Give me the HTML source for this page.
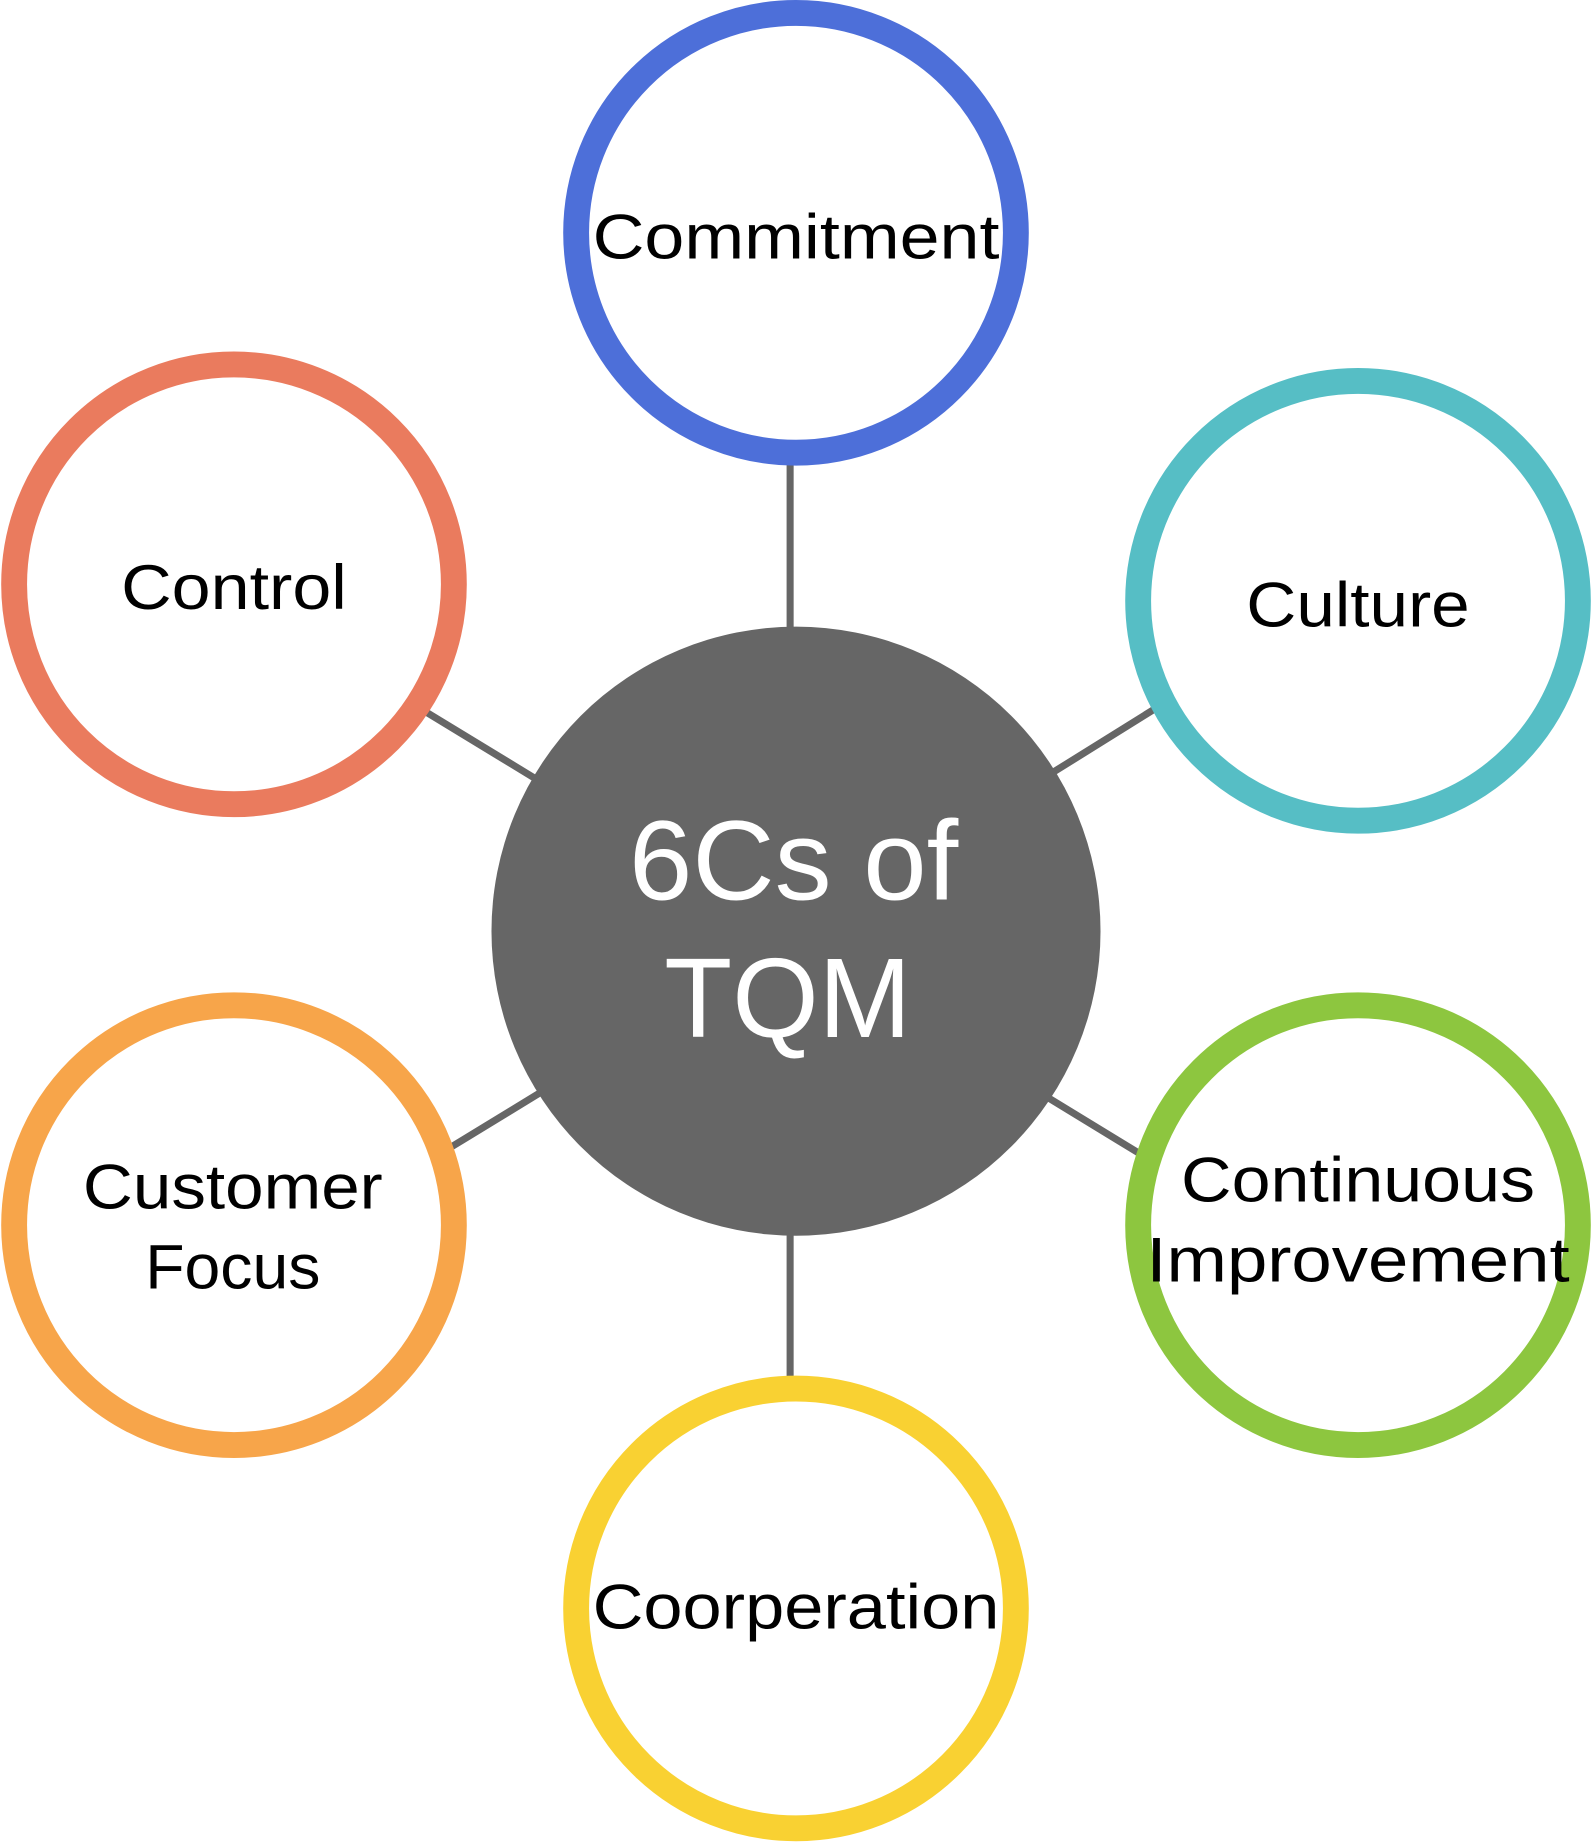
<!DOCTYPE html>
<html><head><meta charset="utf-8"><style>html,body{margin:0;padding:0;background:#fff}svg{display:block}</style></head>
<body>
<svg width="1592" height="1843" viewBox="0 0 1354 1567.5" xmlns="http://www.w3.org/2000/svg">
<g stroke="#666" stroke-width="6">
<line x1="672" y1="395" x2="672" y2="537"/>
<line x1="672" y1="1050" x2="672" y2="1172"/>
<line x1="363" y1="606" x2="455" y2="662"/>
<line x1="982" y1="603" x2="897" y2="656"/>
<line x1="383" y1="976" x2="460" y2="929"/>
<line x1="892" y1="934" x2="969" y2="981"/>
</g>
<g fill="#fff" stroke-width="22">
<circle cx="677" cy="198" r="187" stroke="#4d6fd9"/>
<circle cx="199" cy="497" r="187" stroke="#ea7b5e"/>
<circle cx="1155" cy="511" r="187" stroke="#56bec5"/>
<circle cx="199" cy="1042" r="187" stroke="#f7a54a"/>
<circle cx="1155" cy="1042" r="187" stroke="#8dc63f"/>
<circle cx="677" cy="1368" r="187" stroke="#f9d132"/>
</g>
<circle cx="677" cy="792" r="259" fill="#666"/>
<g font-family="Liberation Sans, sans-serif" font-size="54" fill="#000" text-anchor="middle" lengthAdjust="spacingAndGlyphs">
<text x="677" y="220" textLength="346" lengthAdjust="spacingAndGlyphs">Commitment</text>
<text x="199" y="518" textLength="192" lengthAdjust="spacingAndGlyphs">Control</text>
<text x="1155" y="533" textLength="190" lengthAdjust="spacingAndGlyphs">Culture</text>
<text x="198" y="1028" textLength="255" lengthAdjust="spacingAndGlyphs">Customer</text>
<text x="198" y="1096" textLength="149" lengthAdjust="spacingAndGlyphs">Focus</text>
<text x="1155" y="1022" textLength="301" lengthAdjust="spacingAndGlyphs">Continuous</text>
<text x="1155" y="1090" textLength="360" lengthAdjust="spacingAndGlyphs">Improvement</text>
<text x="677" y="1385" textLength="346" lengthAdjust="spacingAndGlyphs">Coorperation</text>
</g>
<g font-family="Liberation Sans, sans-serif" font-size="96" fill="#fff" text-anchor="middle">
<text x="675" y="765" textLength="280" lengthAdjust="spacingAndGlyphs">6Cs of</text>
<text x="670" y="882" textLength="210" lengthAdjust="spacingAndGlyphs">TQM</text>
</g>
</svg>
</body></html>
